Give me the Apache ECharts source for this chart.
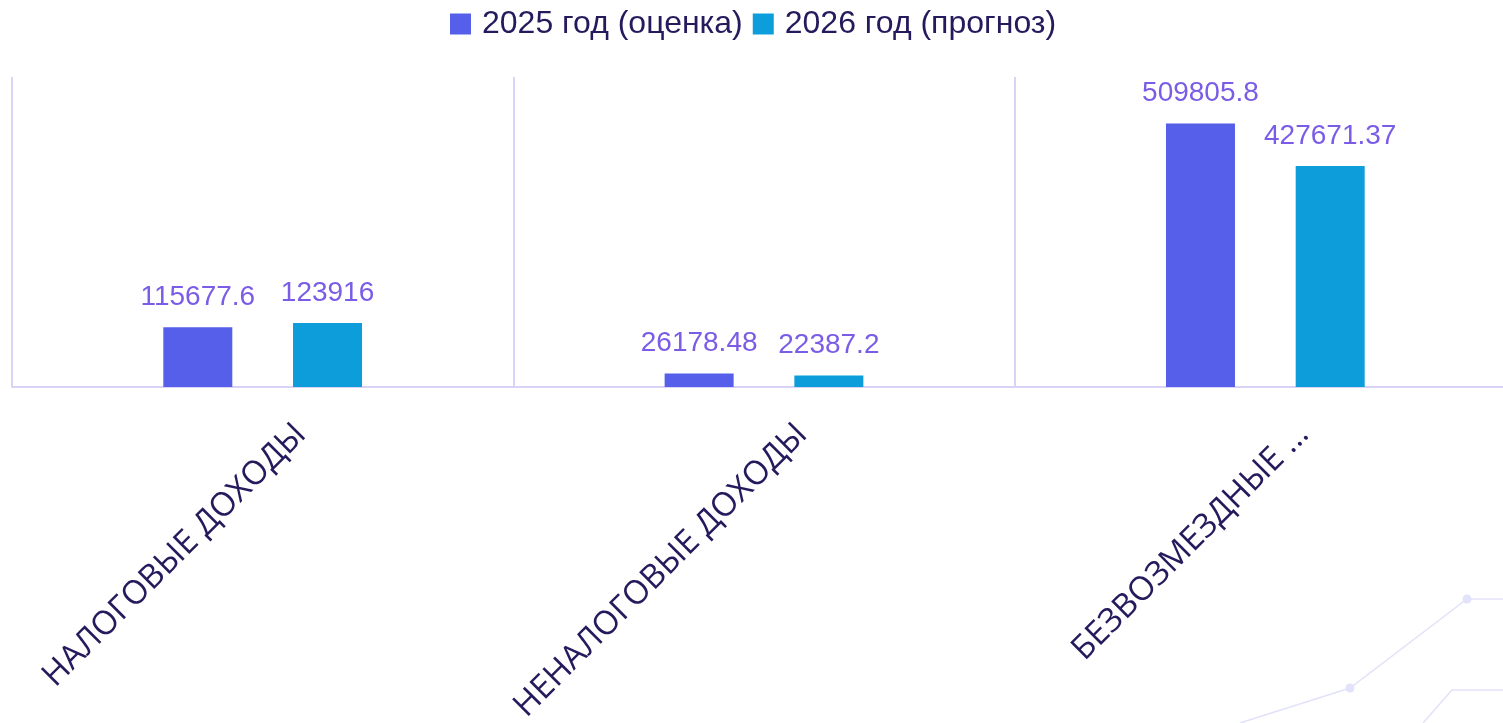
<!DOCTYPE html>
<html>
<head>
<meta charset="utf-8">
<script src="https://cdn.jsdelivr.net/npm/echarts@6/dist/echarts.min.js"></script>
<style>
html,body{margin:0;padding:0;background:#fff;overflow:hidden;width:1503px;height:723px;}
#chart{width:1516px;height:723px;}
</style>
</head>
<body>
<div id="chart"></div>
<script>
const categories = ['НАЛОГОВЫЕ ДОХОДЫ', 'НЕНАЛОГОВЫЕ ДОХОДЫ', 'БЕЗВОЗМЕЗДНЫЕ ПОСТУПЛЕНИЯ'];
const seriesNames = ['2025 год (оценка)', '2026 год (прогноз)'];
const values2025 = [115677.6, 26178.48, 509805.8];
const values2026 = [123916, 22387.2, 427671.37];
const yMax = 600000;

const chart = echarts.init(document.getElementById('chart'), null, {renderer: 'canvas'});
const labelStyle = {
  show: true, position: 'top', distance: 16,
  color: '#7a5ce6', fontSize: 28, fontFamily: 'Arial, "Liberation Sans", sans-serif'
};
chart.setOption({
  animation: false,
  legend: {
    top: 3, left: 445,
    itemWidth: 21, itemHeight: 21, itemGap: 10,
    icon: 'rect',
    textStyle: {color: '#241a5c', fontSize: 32, fontFamily: 'Arial, "Liberation Sans", sans-serif', padding: [0, 0, 0, 6]},
    data: seriesNames
  },
  grid: {left: 12, right: 0, top: 77, bottom: 336, containLabel: false, outerBoundsMode: 'none'},
  xAxis: {
    type: 'category',
    data: categories,
    axisLine: {show: true, lineStyle: {color: '#dad3f8', width: 2}},
    axisTick: {show: false},
    splitLine: {show: true, interval: 0, lineStyle: {color: '#dad3f8', width: 2}},
    axisLabel: {
      interval: 0, rotate: 45, margin: 4,
      lineHeight: 36,
      color: '#241a5c', fontSize: 33, fontFamily: '"Open Sans", Arial, sans-serif',
      formatter: function (v) {
        const t = v.length > 20 ? v.slice(0, 14) + '...' : v;
        return '\n\n\n' + t;
      }
    }
  },
  yAxis: {type: 'value', show: false, min: 0, max: yMax, splitLine: {show: false}},
  graphic: [
    {type: 'polyline', silent: true, z: -1, shape: {points: [[1240, 723], [1350, 688], [1467, 599], [1503, 599]]},
      style: {stroke: '#e2e2fa', lineWidth: 1.5, fill: null}},
    {type: 'polyline', silent: true, z: -1, shape: {points: [[1423, 723], [1452, 690], [1503, 690]]},
      style: {stroke: '#e2e2fa', lineWidth: 1.5, fill: null}},
    {type: 'circle', silent: true, z: -1, shape: {cx: 1350, cy: 688, r: 4.5}, style: {fill: '#e2e2fa'}},
    {type: 'circle', silent: true, z: -1, shape: {cx: 1467, cy: 599, r: 4.5}, style: {fill: '#e2e2fa'}}
  ],
  series: [
    {name: seriesNames[0], type: 'bar', data: values2025, barWidth: 69, barGap: '88%',
      itemStyle: {color: '#555fe9'}, label: labelStyle},
    {name: seriesNames[1], type: 'bar', data: values2026, barWidth: 69, barGap: '88%',
      itemStyle: {color: '#0c9dda'}, label: labelStyle}
  ]
});
</script>
</body>
</html>
